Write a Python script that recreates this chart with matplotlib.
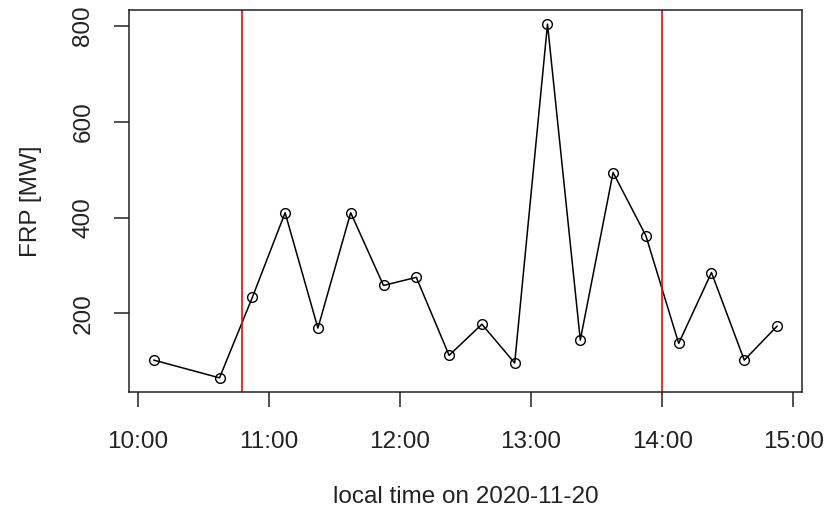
import matplotlib
matplotlib.use('Agg')
import matplotlib.pyplot as plt
import matplotlib.dates as mdates
import numpy as np

plt.rcParams['font.family'] = ['Liberation Sans', 'DejaVu Sans']

# Beobachtungszeitpunkte (lokale Zeit) und FRP-Werte
times = np.array(['2020-11-20T10:07:30', '2020-11-20T10:37:30', '2020-11-20T10:52:30',
                  '2020-11-20T11:07:30', '2020-11-20T11:22:30', '2020-11-20T11:37:30',
                  '2020-11-20T11:52:30', '2020-11-20T12:07:30', '2020-11-20T12:22:30',
                  '2020-11-20T12:37:30', '2020-11-20T12:52:30', '2020-11-20T13:07:30',
                  '2020-11-20T13:22:30', '2020-11-20T13:37:30', '2020-11-20T13:52:30',
                  '2020-11-20T14:07:30', '2020-11-20T14:22:30', '2020-11-20T14:37:30',
                  '2020-11-20T14:52:30'], dtype='datetime64[s]')
frp = [102, 65, 233, 410, 169, 410, 258, 275, 112, 177, 96, 804,
       144, 494, 362, 137, 285, 102, 173]

# Markierungen (rote Linien)
marks = np.array(['2020-11-20T10:48', '2020-11-20T14:00'], dtype='datetime64[s]')
xticks = np.array(['2020-11-20T10:00', '2020-11-20T11:00', '2020-11-20T12:00',
                   '2020-11-20T13:00', '2020-11-20T14:00', '2020-11-20T15:00'],
                  dtype='datetime64[s]')
yticks = [200, 400, 600, 800]

fig = plt.figure(figsize=(8.29, 5.13), dpi=100)
ax = fig.add_axes([129 / 829, 121 / 513, 673 / 829, 382 / 513])

x = mdates.date2num(times)
ax.plot(x, frp, color='black', linewidth=1.1, marker='o', markersize=7,
        markerfacecolor='none', markeredgecolor='black', markeredgewidth=1.0)
# R-Stil: 4 % Rand an beiden Achsen
ax.margins(x=0.04, y=0.04)
ax.autoscale_view()
ax.set_xlim(ax.get_xlim())
ax.set_ylim(ax.get_ylim())
for m in mdates.date2num(marks):
    ax.axvline(m, color='red', linewidth=1.2)

ax.set_xticks(mdates.date2num(xticks))
ax.xaxis.set_major_formatter(mdates.DateFormatter('%H:%M'))
ax.set_yticks(yticks)
ax.set_yticklabels([str(v) for v in yticks], rotation=90, va='center')

ax.tick_params(axis='both', length=11, width=1.1, labelsize=17.5, color='#222222',
               labelcolor='#222222')
ax.tick_params(axis='x', pad=17)
ax.tick_params(axis='y', pad=14)

for s in ax.spines.values():
    s.set_linewidth(1.1)
    s.set_color('#222222')

ax.set_xlabel('local time on 2020-11-20', fontsize=17.5, labelpad=24, color='#222222')
ax.set_ylabel('FRP [MW]', fontsize=17.5, labelpad=22, color='#222222')

plt.savefig('out.png', dpi=100)
plt.close()
